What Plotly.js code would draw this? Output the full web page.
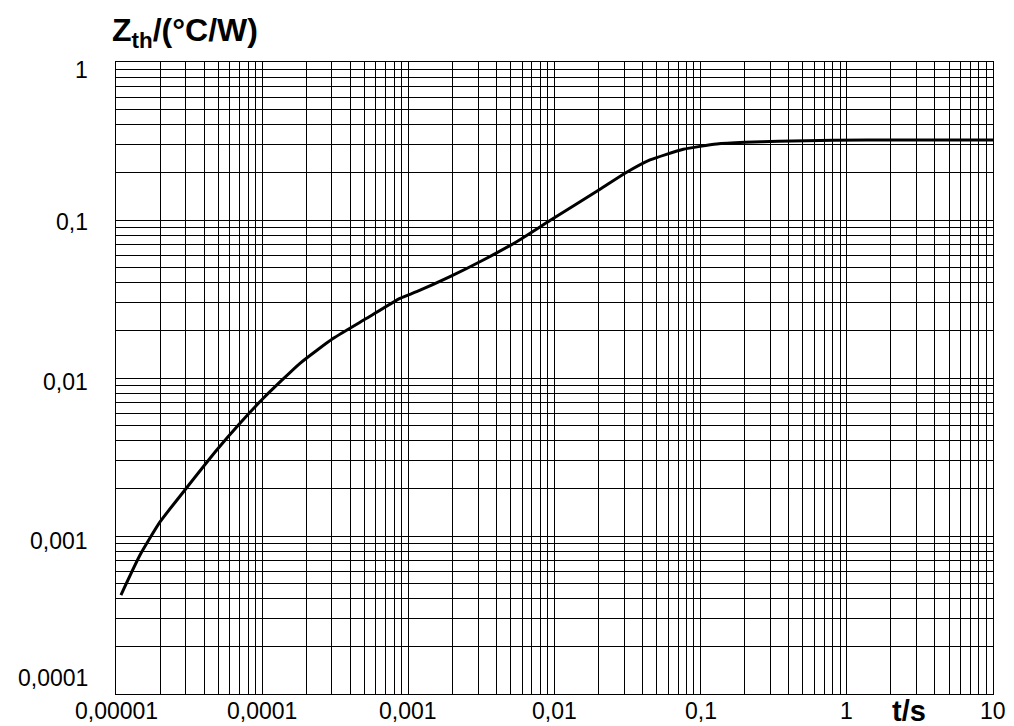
<!DOCTYPE html>
<html>
<head>
<meta charset="utf-8">
<script src="https://cdn.plot.ly/plotly-3.0.1.min.js"></script>
<style>html,body{margin:0;padding:0;background:#fff;}#chart{width:1014px;height:726px;}</style>
</head>
<body>
<div id="chart"></div>
<script>
// Time values (s)
const timeS = [1.081e-5, 1.46e-5, 2.0e-5, 2.96e-5, 4.89e-5, 7.05e-5, 1.018e-4, 1.815e-4, 3.07e-4, 5.19e-4,
  8.77e-4, 1.14e-3, 1.928e-3, 3.257e-3, 5.51e-3, 9.31e-3, 0.02048, 0.03036, 0.045, 0.0761,
  0.1287, 0.201, 0.3396, 0.808, 2.31, 10];
// Thermal impedance Zth (°C/W)
const zth = [4.23e-4, 7.58e-4, 1.227e-3, 1.955e-3, 3.50e-3, 5.17e-3, 7.44e-3, 0.01239, 0.01784, 0.02387,
  0.03194, 0.03517, 0.04377, 0.0558, 0.0729, 0.0993, 0.1564, 0.1975, 0.2398, 0.2803,
  0.3027, 0.3103, 0.3148, 0.3195, 0.3209, 0.321];

const xTickVals = [1e-5, 1e-4, 1e-3, 1e-2, 1e-1, 1, 10];
const xTickText = ['0,00001', '0,0001', '0,001', '0,01', '0,1', '1', '10'];
const yTickVals = [1, 0.1, 0.01, 0.001, 0.0001];
const yTickText = ['1', '0,1', '0,01', '0,001', '0,0001'];
const yLabelShift = [-8, -2, -4, -5, 16];

const FONT = 'Liberation Sans, Arial, sans-serif';

const trace = {
  x: timeS, y: zth, type: 'scatter', mode: 'lines',
  line: {color: '#000', width: 3, shape: 'spline', smoothing: 0.5},
  hoverinfo: 'skip'
};

const annotations = yTickVals.map((v, i) => ({
  xref: 'paper', yref: 'y', x: 0, y: Math.log10(v),
  text: yTickText[i], showarrow: false, xanchor: 'right', yanchor: 'middle',
  xshift: -26, yshift: yLabelShift[i],
  font: {family: FONT, size: 23, color: '#000'}
}));
xTickVals.forEach((v, i) => annotations.push({
  xref: 'x', yref: 'paper', x: Math.log10(v), y: 0,
  text: xTickText[i], showarrow: false, xanchor: 'center', yanchor: 'middle',
  yshift: -17,
  font: {family: FONT, size: 23, color: '#000'}
}));
annotations.push({
  xref: 'paper', yref: 'paper', x: 0.904, y: -0.027, xanchor: 'center', yanchor: 'middle',
  text: '<b>t/s</b>', showarrow: false,
  font: {family: FONT, size: 29, color: '#000'}
});

const layout = {
  width: 1014, height: 726,
  margin: {l: 116, r: 21, t: 62, b: 32},
  paper_bgcolor: '#fff', plot_bgcolor: '#fff',
  showlegend: false,
  title: {
    text: '<b>Z<sub>th</sub>/(°C/W)</b>',
    x: 112 / 1014, xanchor: 'left', xref: 'container',
    y: 1 - 30 / 726, yanchor: 'middle', yref: 'container',
    font: {family: FONT, size: 32, color: '#000'}
  },
  xaxis: {
    type: 'log', range: [-5, 1],
    tickvals: xTickVals, showticklabels: false, ticks: '',
    showgrid: true, gridcolor: '#000', gridwidth: 1,
    minor: {dtick: 'D1', showgrid: true, gridcolor: '#000', gridwidth: 1, ticks: ''},
    showline: true, linecolor: '#000', linewidth: 1, mirror: true,
    zeroline: false, fixedrange: true
  },
  yaxis: {
    type: 'log', range: [-4, 0],
    tickvals: yTickVals, showticklabels: false, ticks: '',
    showgrid: true, gridcolor: '#000', gridwidth: 1,
    minor: {dtick: 'D1', showgrid: true, gridcolor: '#000', gridwidth: 1, ticks: ''},
    showline: true, linecolor: '#000', linewidth: 1, mirror: true,
    zeroline: false, fixedrange: true
  },
  annotations: annotations
};

Plotly.newPlot('chart', [trace], layout, {displayModeBar: false, staticPlot: true});
</script>
</body>
</html>
